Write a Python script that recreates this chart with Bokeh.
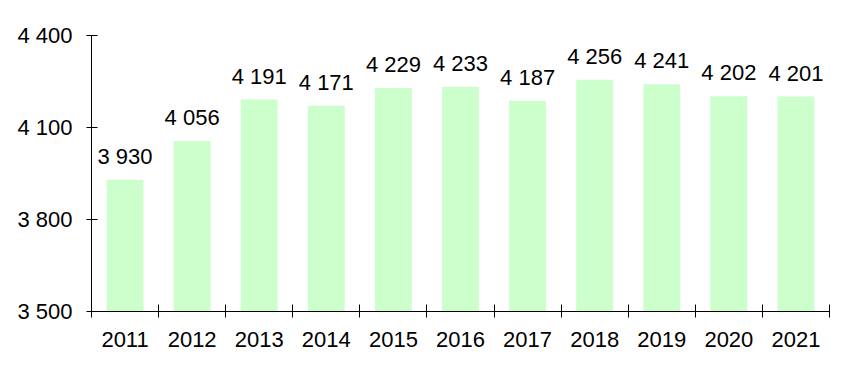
from bokeh.plotting import figure
from bokeh.models import ColumnDataSource, Range1d, FixedTicker, LabelSet
from bokeh.core.properties import value
from bokeh.embed import file_html
from bokeh.resources import INLINE

years = [2011, 2012, 2013, 2014, 2015, 2016, 2017, 2018, 2019, 2020, 2021]
values = [3930, 4056, 4191, 4171, 4229, 4233, 4187, 4256, 4241, 4202, 4201]
y_ticks = [3500, 3800, 4100, 4400]

def fmt(v):
    return f"{v:,}".replace(",", " ")

src = ColumnDataSource(dict(x=years, top=values, label=[fmt(v) for v in values]))

p = figure(width=847, height=380, output_backend="svg", toolbar_location=None,
           x_range=Range1d(years[0] - 0.5, years[-1] + 0.5),
           y_range=Range1d(y_ticks[0], y_ticks[-1]),
           min_border_left=91, min_border_right=18, min_border_top=35, min_border_bottom=69)
p.outline_line_color = None
p.grid.visible = False
p.background_fill_color = "white"

p.vbar(x="x", top="top", bottom=y_ticks[0], width=0.55, source=src,
       fill_color="#ccffcc", line_color=None)

FONT = "Liberation Sans"
labels = LabelSet(x="x", y="top", text="label", source=src, text_align="center",
                  text_baseline="alphabetic", y_offset=16,
                  text_font=value(FONT), text_font_size=value("22px"), text_color="black")
p.add_layout(labels)

p.xaxis.ticker = FixedTicker(ticks=years, minor_ticks=[y - 0.5 for y in years] + [years[-1] + 0.5])
p.xaxis.major_tick_in = 0
p.xaxis.major_tick_out = 0
p.xaxis.minor_tick_in = 7
p.xaxis.minor_tick_out = 6
p.xaxis.major_label_overrides = {y: str(y) for y in years}
p.xaxis.major_label_standoff = 14

p.yaxis.ticker = FixedTicker(ticks=y_ticks, minor_ticks=[])
p.yaxis.major_tick_in = 6
p.yaxis.major_tick_out = 5
p.yaxis.minor_tick_line_color = None
p.yaxis.major_label_overrides = {t: fmt(t) for t in y_ticks}
p.yaxis.major_label_standoff = 14

for ax in (p.xaxis, p.yaxis):
    ax.axis_line_color = "black"
    ax.major_tick_line_color = "black"
    ax.major_label_text_font = FONT
    ax.major_label_text_font_size = "22px"
    ax.major_label_text_color = "black"
p.xaxis.minor_tick_line_color = "black"

open("out.html", "w").write(file_html(p, INLINE))
